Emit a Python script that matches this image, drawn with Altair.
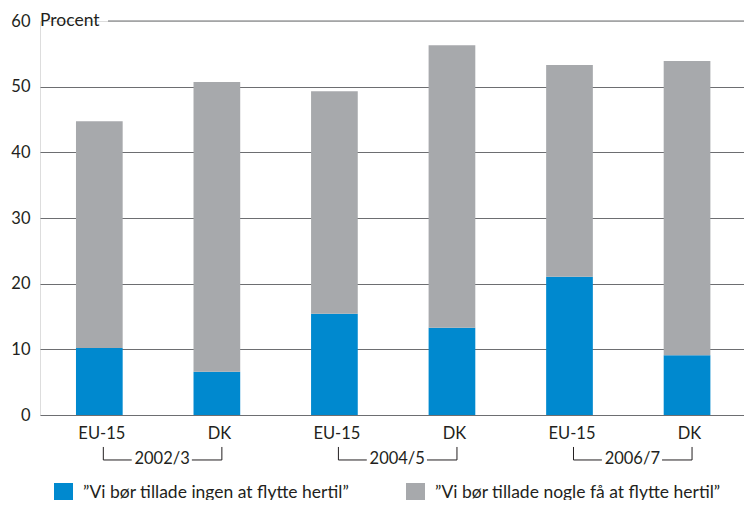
import altair as alt
import pandas as pd

# ---- data ----
periods = ["2002/3", "2002/3", "2004/5", "2004/5", "2006/7", "2006/7"]
regions = ["EU-15", "DK", "EU-15", "DK", "EU-15", "DK"]
ingen = [10.2, 6.6, 15.4, 13.3, 21.05, 9.1]          # blue
nogle = [34.55, 44.1, 33.9, 43.0, 32.25, 44.8]        # grey
series_names = ["\u201dVi bør tillade ingen at flytte hertil\u201d",
                "\u201dVi bør tillade nogle få at flytte hertil\u201d"]
series_colors = ["#0089cf", "#a7a9ac"]
y_ticks = [0, 10, 20, 30, 40, 50, 60]
group_labels = ["2002/3", "2004/5", "2006/7"]
unit_label = "Procent"

TXT = "#231f20"
FONT = "Lato"

keys = [f"{p} {r}" for p, r in zip(periods, regions)]

rows = []
for k, p, r, a, b in zip(keys, periods, regions, ingen, nogle):
    rows.append({"key": k, "period": p, "region": r, "serie": series_names[0], "ord": 0, "value": a})
    rows.append({"key": k, "period": p, "region": r, "serie": series_names[1], "ord": 1, "value": b})
df = pd.DataFrame(rows)

groups = pd.DataFrame({
    "label": group_labels,
    "eu": [keys[0], keys[2], keys[4]],
    "dk": [keys[1], keys[3], keys[5]],
    "ytop": [-4.87] * 3,
    "yline": [-6.85] * 3,
    "ytext": [-6.75] * 3,
})

W, H = 704, 394

xscale = alt.Scale(domain=keys, paddingInner=0.6027, paddingOuter=0.296, align=0.517)
yscale = alt.Scale(domain=[0, 60], nice=False, zero=True)

x_enc = alt.X("key:N", scale=xscale,
              axis=alt.Axis(title=None, labelExpr="split(datum.label, ' ')[1]",
                            labelAngle=0, domain=False, ticks=False,
                            labelPadding=10, labelOffset=2.5,
                            labelFontSize=16.5, labelFont=FONT, labelColor=TXT))

bars = alt.Chart(df).mark_bar(width=46.7).encode(
    x=x_enc,
    y=alt.Y("value:Q", stack="zero", scale=yscale,
            axis=alt.Axis(title=None, values=y_ticks, domain=False, ticks=False,
                          labelPadding=10, labelFontSize=16.5, labelFont=FONT,
                          labelColor=TXT, grid=True, gridColor="#6d6e71",
                          gridWidth=1,
                          gridOpacity={"condition": {"test": "datum.value === 60", "value": 0},
                                       "value": 1})),
    color=alt.Color("serie:N", sort=series_names,
                    scale=alt.Scale(domain=series_names, range=series_colors),
                    legend=alt.Legend(title=None, orient="none", legendX=14, legendY=462,
                                      direction="horizontal", symbolType="square",
                                      symbolSize=361, symbolStrokeWidth=0,
                                      symbolOpacity=1,
                                      labelFontSize=17.5, labelFont=FONT, labelColor=TXT,
                                      labelOffset=10, columnPadding=56, padding=0,
                                      labelLimit=500)),
    order=alt.Order("ord:Q"),
)

top_df = pd.DataFrame({"y": [60], "label": [unit_label]})
top_rule = alt.Chart(top_df).mark_rule(color="#6d6e71", strokeWidth=1).encode(
    y=alt.Y("y:Q", scale=yscale),
    x=alt.value(68), x2=alt.value(W),
)
top_text = alt.Chart(top_df).mark_text(align="left", baseline="middle", fontSize=17.5,
                                       font=FONT, color=TXT).encode(
    y=alt.Y("y:Q", scale=yscale), x=alt.value(0), text="label:N",
)

LC = "#231f20"
left_v = alt.Chart(groups).mark_rule(color=LC, strokeWidth=1, xOffset=4).encode(
    x=alt.X("eu:N", scale=xscale), y=alt.Y("ytop:Q", scale=yscale), y2="yline:Q")
left_h = alt.Chart(groups).mark_rule(color=LC, strokeWidth=1, xOffset=4, x2Offset=32.4).encode(
    x=alt.X("eu:N", scale=xscale), x2="eu:N", y=alt.Y("yline:Q", scale=yscale))
right_v = alt.Chart(groups).mark_rule(color=LC, strokeWidth=1, xOffset=5).encode(
    x=alt.X("dk:N", scale=xscale), y=alt.Y("ytop:Q", scale=yscale), y2="yline:Q")
right_h = alt.Chart(groups).mark_rule(color=LC, strokeWidth=1, xOffset=-25, x2Offset=5).encode(
    x=alt.X("dk:N", scale=xscale), x2="dk:N", y=alt.Y("yline:Q", scale=yscale))
g_text = alt.Chart(groups).mark_text(align="center", baseline="middle", fontSize=16.5,
                                     font=FONT, color=TXT, dx=62.8).encode(
    x=alt.X("eu:N", scale=xscale), y=alt.Y("ytext:Q", scale=yscale), text="label:N")

chart = alt.layer(bars, top_rule, top_text, left_v, left_h, right_v, right_h, g_text).properties(
    width=W, height=H,
    autosize=alt.AutoSizeParams(type="none"),
    padding={"left": 32, "top": 13, "right": 0, "bottom": 85},
).configure_view(stroke=None).configure(font=FONT)

chart.save("out.html", embed_options={"renderer": "svg", "actions": False})
